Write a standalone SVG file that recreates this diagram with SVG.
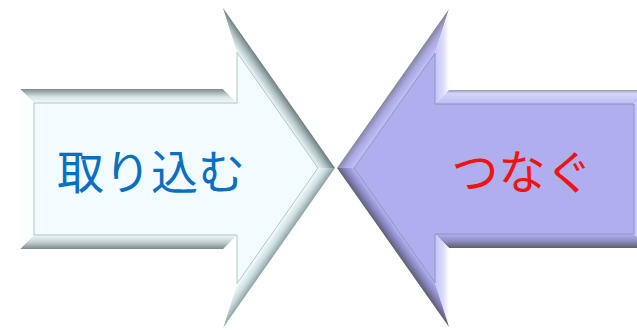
<svg xmlns="http://www.w3.org/2000/svg" width="637" height="330" viewBox="0 0 637 330">
  <style>
    .lbl { font-family: "Noto Sans CJK JP", "Noto Sans", sans-serif; font-size: 47px; text-anchor: middle; }
    .inL { fill: #f2fcfe; stroke: #b3c3c5; stroke-width: 1; }
    .inR { fill: #afafed; stroke: #9090cc; stroke-width: 1; }
  </style>
  <defs>
    <!-- left arrow bevels -->
    <linearGradient id="lTop" gradientUnits="userSpaceOnUse" x1="0" y1="89" x2="0" y2="103">
      <stop offset="0" stop-color="#7c8b8e"/>
      <stop offset="0.55" stop-color="#d6e2e4"/>
      <stop offset="1" stop-color="#f4fbfc"/>
    </linearGradient>
    <linearGradient id="lBot" gradientUnits="userSpaceOnUse" x1="0" y1="235" x2="0" y2="249">
      <stop offset="0" stop-color="#f0f9fa"/>
      <stop offset="0.5" stop-color="#c4d2d4"/>
      <stop offset="1" stop-color="#7d8a8c"/>
    </linearGradient>
    <linearGradient id="lDiagT" gradientUnits="userSpaceOnUse" x1="279" y1="88" x2="267.5" y2="96">
      <stop offset="0" stop-color="#6e7f82"/>
      <stop offset="0.5" stop-color="#b4c5c8"/>
      <stop offset="1" stop-color="#eef8fa"/>
    </linearGradient>
    <linearGradient id="lDiagB" gradientUnits="userSpaceOnUse" x1="279" y1="248" x2="267.5" y2="240">
      <stop offset="0" stop-color="#8ea3a6"/>
      <stop offset="0.5" stop-color="#cfe0e2"/>
      <stop offset="1" stop-color="#f6fdfe"/>
    </linearGradient>
    <!-- right arrow bevels -->
    <linearGradient id="rDiagT" gradientUnits="userSpaceOnUse" x1="393" y1="88.5" x2="404.4" y2="96.6">
      <stop offset="0" stop-color="#85859a"/>
      <stop offset="0.45" stop-color="#a8a8e4"/>
      <stop offset="1" stop-color="#c2c2f5"/>
    </linearGradient>
    <linearGradient id="rDiagB" gradientUnits="userSpaceOnUse" x1="393" y1="247.5" x2="404.4" y2="239.4">
      <stop offset="0" stop-color="#5e5e70"/>
      <stop offset="0.5" stop-color="#8a8ac8"/>
      <stop offset="1" stop-color="#b4b4ee"/>
    </linearGradient>
    <linearGradient id="rTop" gradientUnits="userSpaceOnUse" x1="0" y1="90" x2="0" y2="104">
      <stop offset="0" stop-color="#9a9ab4"/>
      <stop offset="0.25" stop-color="#d4d4fb"/>
      <stop offset="1" stop-color="#bcbcf2"/>
    </linearGradient>
    <linearGradient id="rBot" gradientUnits="userSpaceOnUse" x1="0" y1="234" x2="0" y2="248">
      <stop offset="0" stop-color="#b2b2ee"/>
      <stop offset="0.5" stop-color="#8e8ec4"/>
      <stop offset="1" stop-color="#5e5e6c"/>
    </linearGradient>
    <linearGradient id="rBase" gradientUnits="userSpaceOnUse" x1="449" y1="0" x2="435" y2="0">
      <stop offset="0" stop-color="#ffffff"/>
      <stop offset="0.4" stop-color="#dcdcfc"/>
      <stop offset="1" stop-color="#c4c4f6"/>
    </linearGradient>
  </defs>

  <g id="arrow-torikomu">
    <polygon points="20,89 223,89 237,103 34,103" fill="url(#lTop)"/>
    <polygon points="223,89 223,8 237,52.4 237,103" fill="#ffffff"/>
    <polygon points="223,8 335,168 318,168 237,52.4" fill="url(#lDiagT)"/>
    <polygon points="335,168 223,328 237,283.6 318,168" fill="url(#lDiagB)"/>
    <polygon points="223,328 223,249 237,235 237,283.6" fill="#ffffff"/>
    <polygon points="223,249 20,249 34,235 237,235" fill="url(#lBot)"/>
    <polygon points="20,249 20,89 34,103 34,235" fill="#fbfefe"/>
    <polygon class="inL" points="34,103 237,103 237,52.4 318,168 237,283.6 237,235 34,235"/>
    <text class="lbl" x="151" y="189" fill="#0a6fc2">取り込む</text>
  </g>

  <g id="arrow-tsunagu">
    <polygon points="337,168 449,9 435,53.2 354.1,168" fill="url(#rDiagT)"/>
    <polygon points="449,9 449,90 435,104 435,53.2" fill="url(#rBase)"/>
    <polygon points="449,90 648,90 634,104 435,104" fill="url(#rTop)"/>
    <polygon points="648,90 648,248 634,234 634,104" fill="#c8c8f6"/>
    <polygon points="648,248 449,248 435,234 634,234" fill="url(#rBot)"/>
    <polygon points="449,248 449,327 435,282.8 435,234" fill="url(#rBase)"/>
    <polygon points="449,327 337,168 354.1,168 435,282.8" fill="url(#rDiagB)"/>
    <polygon class="inR" points="354.1,168 435,53.2 435,104 634,104 634,234 435,234 435,282.8"/>
    <text class="lbl" x="522" y="189" fill="#f21212">つなぐ</text>
  </g>

  <g id="connectors"/>
</svg>
